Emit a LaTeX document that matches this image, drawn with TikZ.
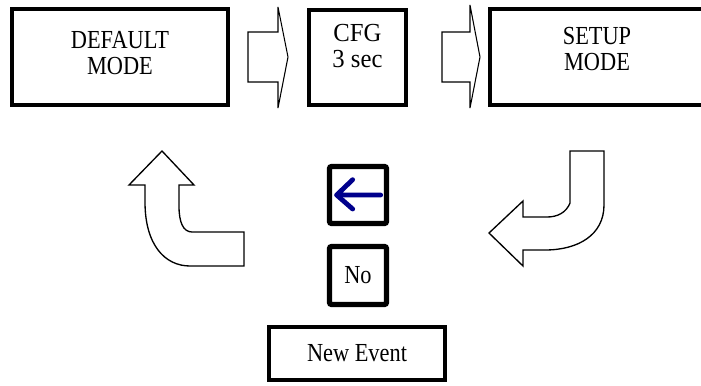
\documentclass[tikz,border=0pt]{standalone}
\usepackage{fontspec}
\setmainfont{Liberation Serif}[FakeStretch=0.86]
\newfontfamily\cfgfont{Liberation Serif}[FakeStretch=0.95]
\definecolor{arrowblue}{RGB}{0,0,140}
\tikzset{
  modebox/.style={draw, line width=3.5pt, inner sep=0pt, align=center,
    font=\fontsize{19.5}{19.5}\selectfont},
  smallbox/.style={draw, line width=3.9pt, rounded corners=1.5pt, inner sep=0pt, align=center,
    font=\fontsize{19.5}{19.5}\selectfont},
  blockarrow/.style={draw, line width=0.8pt, line join=miter, fill=white},
  backarrow/.style={draw=arrowblue, line width=3.6pt, line cap=round, line join=round}
}
\begin{document}
\begin{tikzpicture}[x=0.75pt,y=-0.75pt]
\useasboundingbox (0,0) rectangle (701,386);
% top row boxes
\node[modebox, minimum width=162pt, minimum height=72pt, text depth=6pt] (dm) at (120,57) {DEFAULT\\MODE};
\node[modebox, minimum width=72.75pt, minimum height=71.25pt, text depth=18pt,
      font=\cfgfont\fontsize{19.5}{19.5}\selectfont] (cfg) at (357.5,57.5) {CFG\\3 sec};
\node[modebox, minimum width=160.5pt, minimum height=72pt, text depth=12.75pt] (su) at (597,57) {SETUP\\MODE};
% middle boxes
\node[smallbox, minimum width=42.75pt, minimum height=42.75pt] (ab) at (358,195) {};
\node[smallbox, minimum width=42.75pt, minimum height=43.5pt] (no) at (358,275.5) {No};
\node[modebox, minimum width=132pt, minimum height=39.75pt] (ne) at (357,353.5) {New Event};
% blue back arrow inside box
\draw[backarrow] ([xshift=17pt]ab.center) -- ([xshift=-16pt]ab.center)
  -- ([xshift=-4pt,yshift=11.5pt]ab.center);
\draw[backarrow] ([xshift=-16pt]ab.center) -- ([xshift=-4pt,yshift=-10.5pt]ab.center);
% hollow block arrows between boxes
\draw[blockarrow] (248,32) -- (278,32) -- (278,7) -- (288,57) -- (278,108) -- (278,82) -- (248,82) -- cycle;
\draw[blockarrow] (442,32) -- (470,32) -- (470,5) -- (480,57) -- (470,108) -- (470,82) -- (442,82) -- cycle;
% left curved arrow (upwards)
\draw[blockarrow, line width=1pt] (244,232) -- (192,232)
  .. controls (183,232) and (179,222) .. (179,206) -- (179,185) -- (194,185) -- (162,151)
  -- (129,185) -- (145,185) -- (145,202)
  .. controls (145,245) and (165,266) .. (190,266) -- (244,266) -- cycle;
% right curved arrow (leftwards)
\draw[blockarrow, line width=1pt] (570,151) -- (604,151) -- (604,205)
  .. controls (604,235) and (578,250) .. (545,250) -- (523,250) -- (523,266) -- (489,233)
  -- (523,201) -- (523,217) -- (547,217)
  .. controls (557,217) and (566,213) .. (570,203) -- cycle;
\end{tikzpicture}
\end{document}
